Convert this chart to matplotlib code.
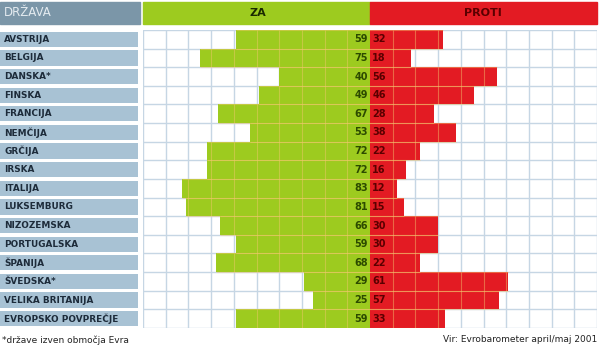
import numpy as np
import matplotlib.pyplot as plt
from matplotlib.patches import Rectangle

countries = ["Avstrija", "Belgija", "Danska*", "Finska", "Francija", "Nemčija",
             "Grčija", "Irska", "Italija", "Luksemburg", "Nizozemska",
             "Portugalska", "Španija", "Švedska*", "Velika Britanija",
             "Evropsko povprečje"]
za = [59, 75, 40, 49, 67, 53, 72, 72, 83, 81, 66, 59, 68, 29, 25, 59]
proti = [32, 18, 56, 46, 28, 38, 22, 16, 12, 15, 30, 30, 22, 61, 57, 33]

GREEN = "#9dcb1f"
RED = "#e31b23"
GRID = "#c6d6e4"
HEAD = "#7b96a8"
LABBOX = "#a8c2d4"

W, H = 600, 351
fig = plt.figure(figsize=(6, 3.51), dpi=100)


def px(x0, y0, x1, y1):
    # pixel box (top-left origin) -> figure fraction rect
    return [x0 / W, 1 - y1 / H, (x1 - x0) / W, (y1 - y0) / H]


n = len(countries)
y = np.arange(n)

# main bar area
ax = fig.add_axes(px(143, 30, 597, 328))
ax.set_xlim(-100, 100)
ax.set_ylim(n - 0.5, -0.5)
ax.axis("off")
for xv in range(-100, 101, 10):
    ax.axvline(xv, color=GRID, lw=1, zorder=0)
for yv in np.arange(-0.5, n, 1):
    ax.axhline(yv, color=GRID, lw=1, zorder=0)
ax.barh(y, [-v for v in za], height=1, color=GREEN, zorder=1)
ax.barh(y, proti, height=1, color=RED, zorder=1)

# grid shows faintly through the bars only
for i in range(n):
    lo, hi = -za[i], proti[i]
    xs = [xv for xv in range(-100, 101, 10) if lo < xv < hi and xv != 0]
    ax.vlines(xs, i - 0.5, i + 0.5, color="#f4c870", lw=0.8, alpha=0.45,
              zorder=2)
    ax.hlines([i - 0.5, i + 0.5], lo, hi, color="#f4c870", lw=0.8,
              alpha=0.45, zorder=2)

for i in range(n):
    ax.text(-1.0, i, str(za[i]), ha="right", va="center", fontsize=7,
            color="#2c4a00", fontweight="bold", zorder=3)
    ax.text(1.0, i, str(proti[i]), ha="left", va="center", fontsize=7,
            color="#5a0000", fontweight="bold", zorder=3)

# country label column
lax = fig.add_axes(px(0, 30, 138, 328))
lax.set_xlim(0, 1)
lax.set_ylim(n - 0.5, -0.5)
lax.axis("off")
lax.barh(y, 1, height=0.82, left=0, color=LABBOX)
for i, c in enumerate(countries):
    lax.text(0.03, i, c.upper(), ha="left", va="center", fontsize=6.4,
             color="#1d2b3a", fontweight="bold")

# header
fig.patches.append(Rectangle(px(0, 2, 140, 24)[:2], 140 / W, 22 / H,
                             transform=fig.transFigure, color=HEAD))
fig.patches.append(Rectangle(px(143, 2, 370, 24)[:2], 227 / W, 22 / H,
                             transform=fig.transFigure, color=GREEN))
fig.patches.append(Rectangle(px(370, 2, 597, 24)[:2], 227 / W, 22 / H,
                             transform=fig.transFigure, color=RED))
fig.text(4 / W, 1 - 13 / H, "DRŽAVA", ha="left", va="center", fontsize=8.5,
         color="#e4ebf0")
fig.text(258 / W, 1 - 13 / H, "ZA", ha="center", va="center", fontsize=8,
         color="#1a2a00", fontweight="bold")
fig.text(483 / W, 1 - 13 / H, "PROTI", ha="center", va="center", fontsize=8,
         color="#5a0000", fontweight="bold")

# footer
fig.text(2 / W, 1 - 340 / H, "*države izven območja Evra", ha="left",
         va="center", fontsize=6.5, color="#222222")
fig.text(597 / W, 1 - 340 / H, "Vir: Evrobarometer april/maj 2001",
         ha="right", va="center", fontsize=6.5, color="#222222")

fig.savefig("out.png", dpi=100)
